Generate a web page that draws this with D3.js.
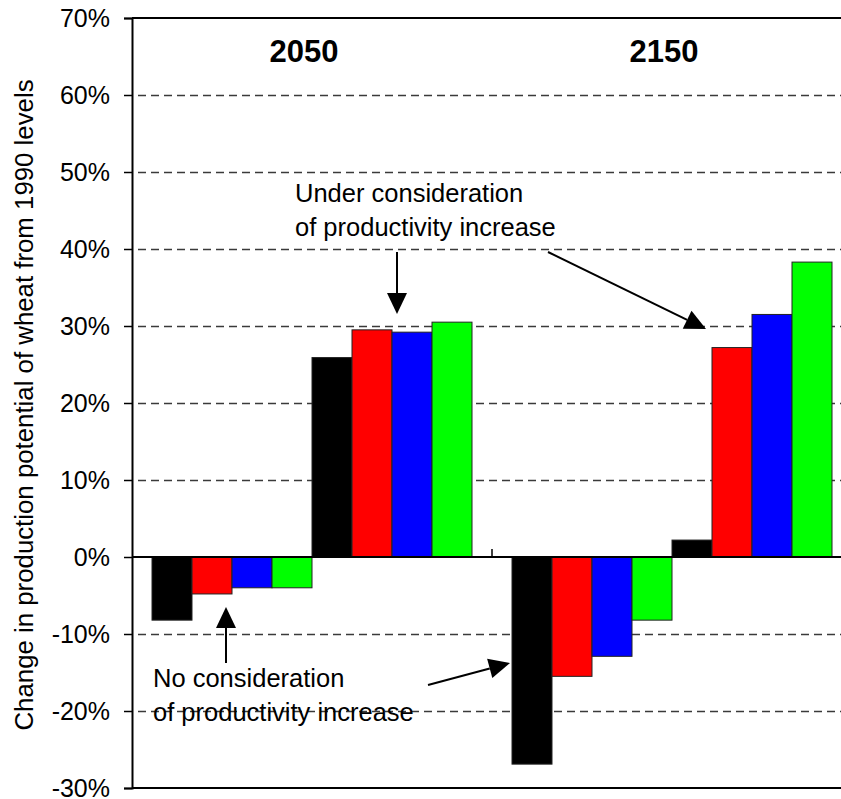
<!DOCTYPE html>
<html>
<head>
<meta charset="utf-8">
<script src="https://cdn.jsdelivr.net/npm/d3@7"></script>
<style>
  html, body { margin: 0; padding: 0; background: #fff; }
  svg { display: block; font-family: "Liberation Sans", Arial, sans-serif; }
</style>
</head>
<body>
<svg id="chart" width="841" height="799"></svg>
<script>
// Change in wheat production potential relative to 1990 (%)
const periods = ["2050", "2150"];
const scenarioColors = ["#000000", "#ff0000", "#0000ff", "#00ff00"];
// four scenarios without productivity increase, then four with it
const without2050 = [-8.2, -4.8, -4.0, -4.0];
const with2050 = [25.9, 29.5, 29.2, 30.5];
const without2150 = [-26.9, -15.5, -12.9, -8.2];
const with2150 = [2.2, 27.2, 31.5, 38.3];
const yTicks = [-30, -20, -10, 0, 10, 20, 30, 40, 50, 60, 70];
const yTitle = "Change in production potential of wheat from 1990 levels";
const noteWithout = ["No consideration", "of productivity increase"];
const noteWith = ["Under consideration", "of productivity increase"];

const barsByPeriod = {
  "2050": without2050.concat(with2050),
  "2150": without2150.concat(with2150)
};
const slots = d3.range(8);

const svg = d3.select("#chart");
const plotL = 132, plotR = 852, plotT = 18, plotB = 788;

const x = d3.scaleBand().domain(periods).range([plotL, plotR]).padding(0);
const xInner = d3.scaleBand().domain(slots).range([0, x.bandwidth()])
  .paddingInner(0).paddingOuter(0.5);
const y = d3.scaleLinear().domain([-30, 70]).range([plotB, plotT]);

// dashed gridlines
svg.append("g").selectAll("line")
  .data(yTicks.filter(t => t !== 0 && t !== -30 && t !== 70))
  .join("line")
  .attr("x1", plotL + 1).attr("x2", 841)
  .attr("y1", d => Math.round(y(d)) + 0.5).attr("y2", d => Math.round(y(d)) + 0.5)
  .attr("stroke", "#3a3a3a").attr("stroke-width", 1.3)
  .attr("stroke-dasharray", "8,5")
  .attr("stroke-dashoffset", -5);

// bars
const rows = [];
periods.forEach(p => barsByPeriod[p].forEach((v, i) => rows.push({ p, i, v })));
svg.append("g").selectAll("rect")
  .data(rows)
  .join("rect")
  .attr("x", d => x(d.p) + xInner(d.i))
  .attr("width", xInner.bandwidth())
  .attr("y", d => y(Math.max(0, d.v)))
  .attr("height", d => Math.abs(y(d.v) - y(0)))
  .attr("fill", d => scenarioColors[d.i % 4])
  .attr("stroke", "#222").attr("stroke-width", 1);

// plot frame: top and bottom edges
svg.append("line").attr("x1", plotL).attr("x2", 841)
  .attr("y1", plotT).attr("y2", plotT).attr("stroke", "#000").attr("stroke-width", 2);
svg.append("line").attr("x1", plotL).attr("x2", 841)
  .attr("y1", plotB).attr("y2", plotB).attr("stroke", "#000").attr("stroke-width", 2);

// category axis at zero, ticks pointing up at group boundaries
svg.append("line").attr("x1", plotL).attr("x2", 841)
  .attr("y1", y(0)).attr("y2", y(0)).attr("stroke", "#000").attr("stroke-width", 2);
svg.append("g").selectAll("line")
  .data(periods.slice(1))
  .join("line")
  .attr("x1", d => x(d)).attr("x2", d => x(d))
  .attr("y1", y(0)).attr("y2", y(0) - 8)
  .attr("stroke", "#000").attr("stroke-width", 1.5);

// value axis
const yAxis = d3.axisLeft(y).tickValues(yTicks)
  .tickFormat(d => d + "%").tickSize(8).tickPadding(14);
const gy = svg.append("g").attr("transform", `translate(${plotL},0)`).call(yAxis);
gy.select(".domain").attr("stroke", "#000").attr("stroke-width", 2);
gy.selectAll(".tick line").attr("stroke", "#000").attr("stroke-width", 1.5);
gy.selectAll(".tick text")
  .attr("font-family", "'Liberation Sans', Arial, sans-serif")
  .attr("font-size", 25).attr("fill", "#000");

// axis title
svg.append("text")
  .attr("transform", `translate(33,${(plotT + plotB) / 2 + 2}) rotate(-90)`)
  .attr("text-anchor", "middle")
  .attr("font-size", 25.8)
  .text(yTitle);

// period labels
svg.append("g").selectAll("text")
  .data(periods)
  .join("text")
  .attr("x", d => x(d) + x.bandwidth() / 2 - 8)
  .attr("y", 62)
  .attr("text-anchor", "middle")
  .attr("font-size", 31).attr("font-weight", "bold")
  .text(d => d);

// annotations
function note(lines, x0, y0) {
  const t = svg.append("text").attr("font-size", 25.5);
  lines.forEach((s, k) => t.append("tspan").attr("x", x0).attr("y", y0 + k * 33.5).text(s));
}
note(noteWith, 295, 202);
note(noteWithout, 153, 687);

function arrow(x1, y1, x2, y2) {
  const len = 21, half = 10;
  const a = Math.atan2(y2 - y1, x2 - x1);
  const bx = x2 - len * Math.cos(a), by = y2 - len * Math.sin(a);
  const nx = -Math.sin(a), ny = Math.cos(a);
  svg.append("line").attr("x1", x1).attr("y1", y1).attr("x2", bx).attr("y2", by)
    .attr("stroke", "#000").attr("stroke-width", 2);
  svg.append("path")
    .attr("d", `M${x2},${y2}L${bx + nx * half},${by + ny * half}L${bx - nx * half},${by - ny * half}Z`)
    .attr("fill", "#000");
}
arrow(397, 252, 397, 314);
arrow(548, 252, 706, 329);
arrow(226, 663, 226, 607);
arrow(428, 685, 510, 663);
</script>
</body>
</html>
